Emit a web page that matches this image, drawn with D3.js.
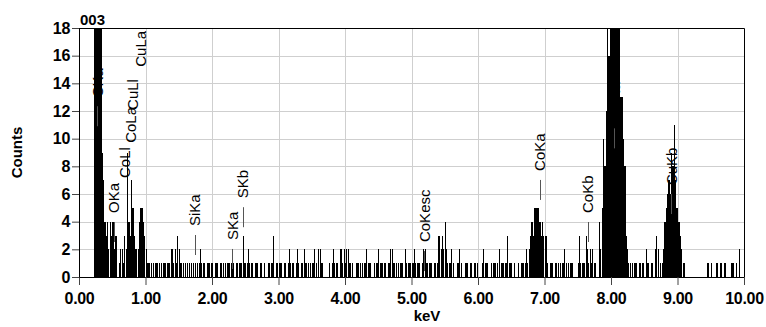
<!DOCTYPE html>
<html><head><meta charset="utf-8">
<script src="https://cdn.jsdelivr.net/npm/d3@7"></script>
<style>
html,body{margin:0;padding:0;background:#fff;}
svg{display:block;font-family:"Liberation Sans",Arial,sans-serif;}
</style></head><body>
<svg id="chart" width="766" height="327"></svg>
<script>
// ---- data ----
const channelWidth = 0.02; // keV per channel
const counts0 = [0,0,0,0,0,0,0,0,0,0, 0,30,60,80,70,50,28, 9,7,4,3,4,2,4,3,4,2,3,3,0,1,2,2,1,3,2,9,4,3,7,5,3,2,2,2,4,5,5,4,3];
const counts1 = [2, 1,1,1,1,0,1,1,1,1,1,0,1,1,1,1,1,1,1, 2,2,1,2,1,3,2,1,1,1,0,1,1,0,1,1,0,1,1,0,1,1,2,1,1,1,0,1,1,1,1];
const counts2 = [1,0,1,1,1,0,1,1,1,0, 1,1,1,1,1,1,1,0,1,1, 1,1,1,3,1,1,1,2,1,1, 1,0,1,1,1,0,1,1,0,1, 0,0,1,1,1,1,3,0,1,1];
const counts3 = [1,1,1,0,1,1,0,1,2,1, 1,1,0,1,2,1,0,1,1,2, 1,1,1,0,1,1,1,2,1,0, 2,2,1,1,0,0,0,0,1,0, 1,2,1,1,1,0,2,2,1,2];
const counts4 = [1,2,2,1,1,1,0,0,1,1, 1,1,0,1,1,1,2,1,1,1, 0,0,1,1,1,2,1,1,1,1, 1,0,1,1,2,2,1,1,1,0, 1,1,1,1,0,2,1,1,1,1];
const counts5 = [1,1,2,1,1,1,1,0,1,2, 2,1,1,1,1,1,0,1,1,1, 3,3,2,3,2,4,2,1,1,1, 2,1,0,0,1,1,2,1,0,0, 1,1,1,0,1,1,0,1,1,1];
const counts6 = [0,0,0,1,2,1,1,1,0,0, 1,1,1,1,1,0,2,1,1,1, 1,1,3,1,1,1,0,1,0,0, 1,0,1,1,1,1,2,1,2,3, 4,3,5,5,5,5,4,3,4,3];
const counts7 = [3,3,1,0,1,1,1,0,1,1, 1,0,1,1,1,2,1,0,1,1, 1,1,0,0,0,1,3,1,1,1, 1,3,2,1,2,1,2,1,1,0, 0,4,2,5,10,8,12,22,16,30];
const counts8 = [45,60,70,60,45,30,20,13,13,10, 8,3,2,1,1,0,1,1,1,1, 0,1,1,1,1,0,2,1,1,0, 1,1,0,2,3,2,0,1,1,2, 4,5,6,7,6,9,8,11,7,5];
const counts9 = [4,4,3,2,1,1, 0,0,0,0,0,0,0,0,0,0,0,0,0,0,0,0, 1,1,0,1,0,0,0,1,1,0,1,1,0,1,1,0,0,0,1,1,1,0,1,0,2,0,0,0];

const peakNames    = ["CKa","OKa","CoLl","CoLa","CuLl","CuLa","SiKa","SKa","SKb","CoKesc","CoKa","CoKb","CuKa","CuKb"];
const peakEnergies = [0.277,0.525,0.678,0.776,0.811,0.930,1.740,2.307,2.464,5.19,6.930,7.649,8.048,8.905];
const peakLevels   = [10.9,2.53,5.06,7.6,9.98,13.1,1.59,0.58,3.6,0.43,5.57,2.53,9.3,4.55];
const peakMarked   = [true,true,false,false,false,false,true,true,true,true,true,true,true,true];

const xTicks = [0,1,2,3,4,5,6,7,8,9,10];
const yTicks = [0,2,4,6,8,10,12,14,16,18];
const sampleName = "003";
const xTitle = "keV";
const yTitle = "Counts";

// ---- chart ----
const counts = [].concat(counts0,counts1,counts2,counts3,counts4,counts5,counts6,counts7,counts8,counts9);
const spectrum = counts.map((c,i)=>({e:i*channelWidth, c}));
const peaks = peakNames.map((n,i)=>({name:n, e:peakEnergies[i], level:peakLevels[i], marked:peakMarked[i]}));

const X0=79, X1=744, Y0=277, Y1=28;
const x = d3.scaleLinear().domain([0,10]).range([X0,X1]);
const y = d3.scaleLinear().domain([0,18]).range([Y0,Y1]);
const svg = d3.select("#chart");

// grid
const grid = svg.append("g").attr("stroke","#cfcfcf").attr("stroke-width",1).attr("shape-rendering","crispEdges");
grid.selectAll("line.h").data(yTicks.filter(v=>v>0 && v<18)).join("line").attr("class","h")
  .attr("x1",X0).attr("x2",X1).attr("y1",d=>Math.round(y(d))+0.5).attr("y2",d=>Math.round(y(d))+0.5);
grid.selectAll("line.v").data(xTicks.filter(v=>v>0 && v<10)).join("line").attr("class","v")
  .attr("y1",Y1).attr("y2",Y0).attr("x1",d=>Math.round(x(d))+0.5).attr("x2",d=>Math.round(x(d))+0.5);

// bars
svg.append("g").attr("fill","#000").attr("shape-rendering","crispEdges")
  .selectAll("rect").data(spectrum.filter(d=>d.c>0)).join("rect")
  .attr("x",d=>Math.round(x(d.e)))
  .attr("width",d=>{let w=Math.round(x(d.e+channelWidth))-Math.round(x(d.e)); if(d.c<4 && w>1) w=1; return Math.max(1,w);})
  .attr("y",d=>y(Math.min(d.c,18)))
  .attr("height",d=>y(0)-y(Math.min(d.c,18)));

// peak markers and labels
const pk = svg.append("g");
pk.selectAll("line").data(peaks.filter(d=>d.marked)).join("line")
  .attr("x1",d=>Math.round(x(d.e))+0.5).attr("x2",d=>Math.round(x(d.e))+0.5)
  .attr("y1",d=>y(d.level)).attr("y2",d=>y(d.level)-20)
  .attr("stroke","#555").attr("stroke-width",1);
pk.selectAll("text").data(peaks).join("text")
  .attr("transform",d=>`translate(${x(d.e)+5.5},${y(d.level)-29}) rotate(-90)`)
  .attr("font-size",15).attr("fill","#000").text(d=>d.name);

// axes
const xAxis = svg.append("g").attr("transform",`translate(0,${Y0})`)
  .call(d3.axisBottom(x).tickValues(xTicks).tickFormat(d3.format(".2f")).tickSize(8).tickSizeOuter(0).tickPadding(8));
const yAxis = svg.append("g").attr("transform",`translate(${X0},0)`)
  .call(d3.axisLeft(y).tickValues(yTicks).tickFormat(d3.format("d")).tickSize(7).tickSizeOuter(0).tickPadding(2));
[xAxis,yAxis].forEach(a=>{
  a.select(".domain").attr("stroke","#000");
  a.selectAll(".tick line").attr("stroke","#444");
  a.selectAll(".tick text").attr("font-size",16).attr("font-weight","bold").attr("fill","#000")
    .attr("font-family","'Liberation Sans',Arial,sans-serif").attr("letter-spacing","-0.3px");
});

// frame top/right
svg.append("path").attr("d",`M${X0},${Y1+0.5}H${X1+0.5}V${Y0}`).attr("fill","none").attr("stroke","#000");

// titles
svg.append("text").attr("x",80).attr("y",25).attr("font-size",15).attr("font-weight","bold").text(sampleName);
svg.append("text").attr("x",427).attr("y",321).attr("text-anchor","middle").attr("font-size",15).attr("font-weight","bold").text(xTitle);
svg.append("text").attr("transform",`translate(22,${(Y0+Y1)/2}) rotate(-90)`).attr("text-anchor","middle")
  .attr("font-size",15).attr("font-weight","bold").text(yTitle);
</script>
</body></html>
